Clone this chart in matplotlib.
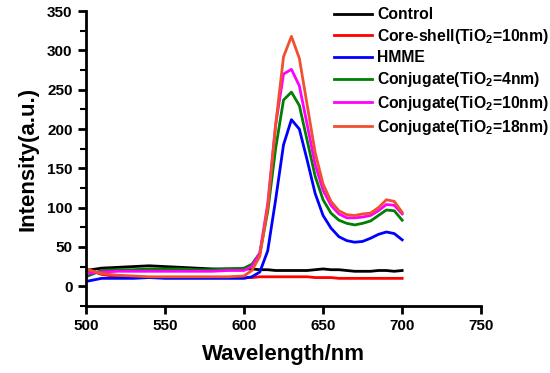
import matplotlib
matplotlib.use("Agg")
import matplotlib.pyplot as plt
from matplotlib.ticker import MultipleLocator

plt.rcParams['font.family'] = ['Liberation Sans', 'DejaVu Sans']
plt.rcParams['font.weight'] = 'bold'
plt.rcParams['mathtext.fontset'] = 'custom'
plt.rcParams['mathtext.rm'] = 'Liberation Sans:bold'
plt.rcParams['mathtext.bf'] = 'Liberation Sans:bold'
plt.rcParams['mathtext.default'] = 'bf'

wavelength = [500, 510, 520, 530, 540, 550, 560, 570, 580, 590, 600, 605, 610, 615,
              620, 625, 630, 635, 640, 645, 650, 655, 660, 665, 670, 675, 680, 685,
              690, 695, 700]

control = [20, 23, 24, 25, 26, 25, 24, 23, 22, 22, 22, 22, 21, 21,
           20, 20, 20, 20, 20, 21, 22, 21, 21, 20, 19, 19, 19, 20,
           20, 19, 20]
core_shell = [22, 15, 12, 11, 11, 11, 11, 11, 11, 11, 11, 11, 12, 12,
              12, 12, 12, 12, 12, 11, 11, 11, 10, 10, 10, 10, 10, 10,
              10, 10, 10]
hmme = [6, 10, 10, 10, 11, 10, 10, 10, 10, 10, 10, 12, 18, 45,
        110, 180, 212, 200, 160, 118, 90, 74, 63, 58, 56, 57, 61, 66,
        69, 67, 59]
conj4 = [12, 20, 21, 21, 22, 22, 22, 21, 21, 22, 23, 28, 42, 95,
         175, 237, 247, 230, 185, 140, 110, 93, 84, 80, 78, 80, 83, 90,
         97, 96, 84]
conj10 = [16, 18, 19, 19, 19, 19, 19, 19, 19, 20, 20, 25, 42, 105,
          205, 270, 276, 255, 205, 155, 122, 103, 92, 87, 87, 88, 90, 96,
          104, 103, 92]
conj18 = [22, 16, 14, 13, 12, 12, 12, 12, 12, 12, 13, 20, 38, 100,
          205, 292, 318, 290, 230, 170, 130, 108, 96, 91, 90, 92, 93, 100,
          110, 108, 94]

labels = ['Control', 'Core-shell(TiO$_{2}$=10nm)', 'HMME',
          'Conjugate(TiO$_{2}$=4nm)', 'Conjugate(TiO$_{2}$=10nm)',
          'Conjugate(TiO$_{2}$=18nm)']
colors = ['#000000', '#ff0000', '#0000ff', '#008000', '#ff00ff', '#f05030']
series = [control, core_shell, hmme, conj4, conj10, conj18]

fig = plt.figure(figsize=(5.5, 3.73), dpi=100)
ax = fig.add_axes([0.156, 0.18, 0.719, 0.79])

for y, c, l in zip(series, colors, labels):
    ax.plot(wavelength, y, color=c, lw=2, label=l)

ax.set_xlim(500, 750)
ax.set_ylim(-25, 350)
ax.xaxis.set_major_locator(MultipleLocator(50))
ax.yaxis.set_major_locator(MultipleLocator(50))
ax.yaxis.set_minor_locator(MultipleLocator(25))
ax.spines['top'].set_visible(False)
ax.spines['right'].set_visible(False)
for s in ['left', 'bottom']:
    ax.spines[s].set_linewidth(2)
ax.tick_params(which='major', direction='out', length=6, width=2, labelsize=11)
ax.tick_params(which='minor', direction='out', length=4, width=1.5)
for t in ax.get_xticklabels() + ax.get_yticklabels():
    t.set_fontweight('bold')

ax.set_xlabel('Wavelength/nm', fontsize=16, fontweight='bold', labelpad=8)
ax.set_ylabel('Intensity(a.u.)', fontsize=16, fontweight='bold', labelpad=6)

leg = fig.legend(loc='upper left', bbox_to_anchor=(0.596, 0.998), frameon=False,
                 handlelength=2.4, handletextpad=0.33, borderaxespad=0.0,
                 labelspacing=0.3, prop={'weight': 'bold', 'size': 11.3})

fig.savefig('out.png', dpi=100)
